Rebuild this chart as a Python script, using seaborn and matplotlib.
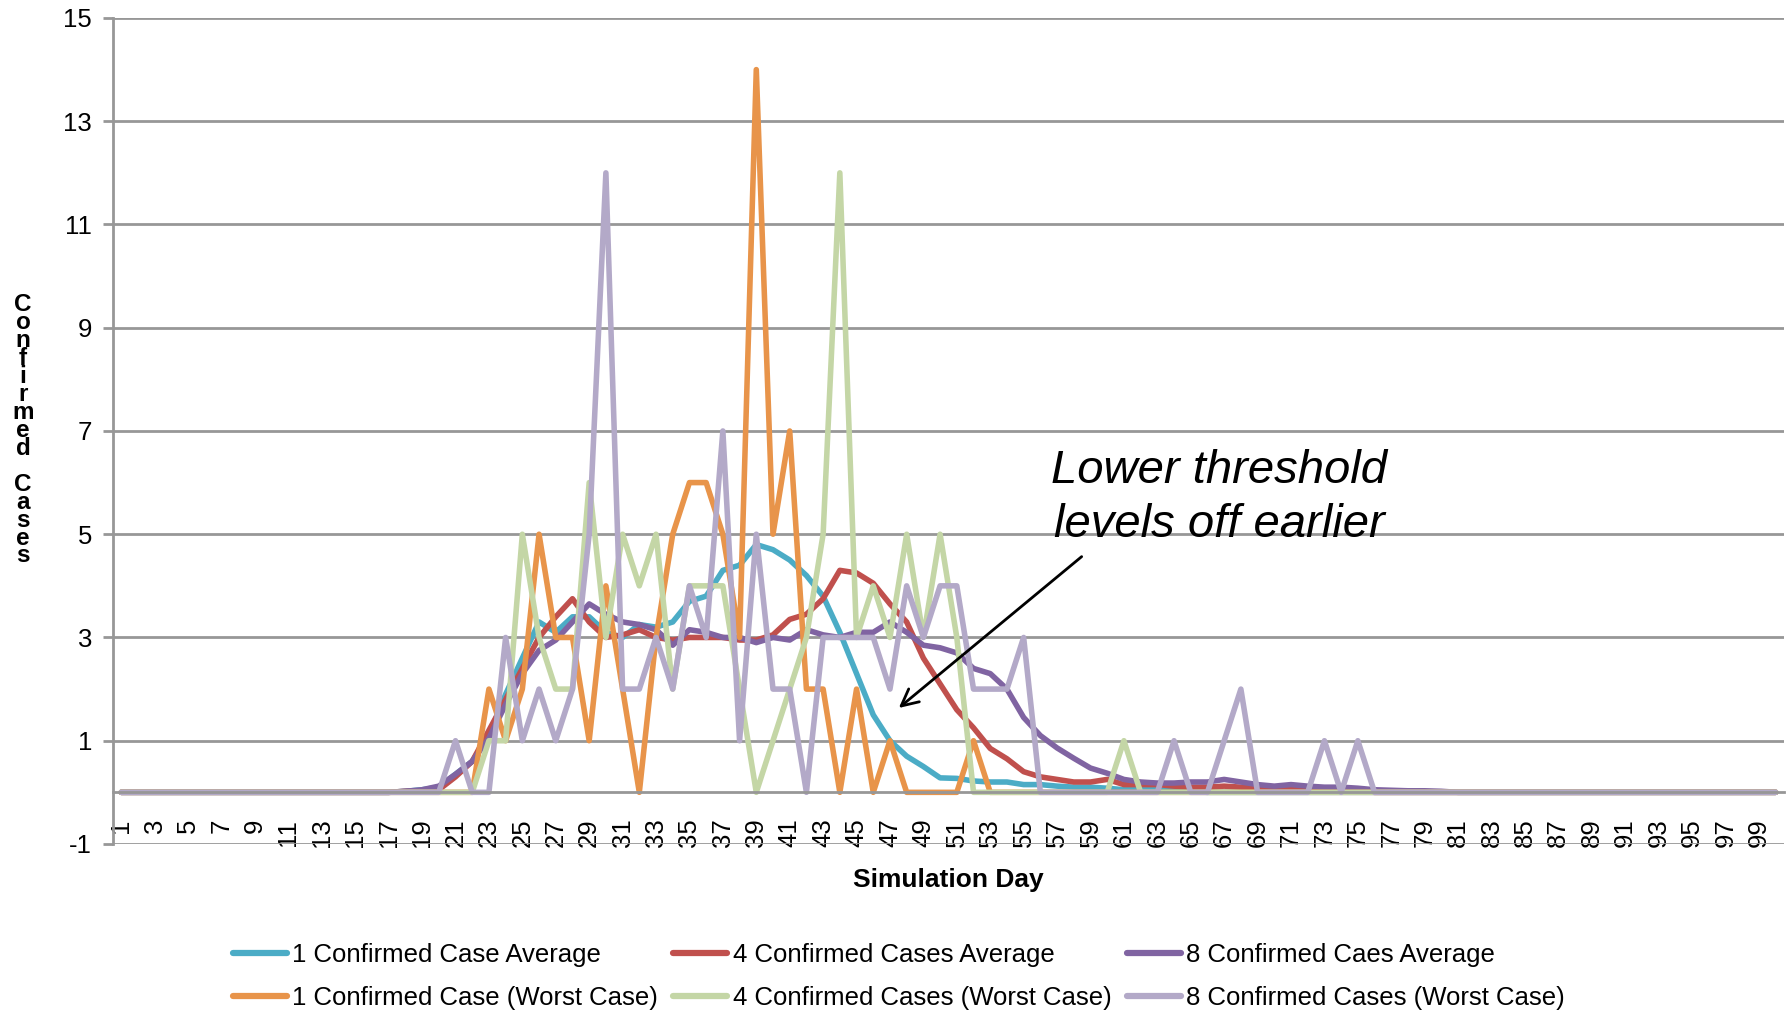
import matplotlib
matplotlib.use("Agg")
import matplotlib.pyplot as plt
import seaborn as sns
import numpy as np
import pandas as pd
from matplotlib.lines import Line2D

days = list(range(1, 101))

avg_1 = [0, 0, 0, 0, 0, 0, 0, 0, 0, 0,
         0, 0, 0, 0, 0, 0, 0, 0.02, 0.05, 0.1,
         0.35, 0.6, 1.1, 1.9, 2.6, 3.3, 3.1, 3.4, 3.4, 3.1,
         3.0, 3.25, 3.2, 3.3, 3.7, 3.8, 4.3, 4.4, 4.8, 4.7,
         4.5, 4.2, 3.8, 3.1, 2.3, 1.5, 1.0, 0.7, 0.5, 0.28,
         0.27, 0.22, 0.2, 0.2, 0.15, 0.15, 0.12, 0.1, 0.1, 0.08,
         0.05, 0.05, 0.05, 0.03, 0.02, 0, 0, 0, 0, 0,
         0, 0, 0, 0, 0, 0, 0, 0, 0, 0,
         0, 0, 0, 0, 0, 0, 0, 0, 0, 0,
         0, 0, 0, 0, 0, 0, 0, 0, 0, 0]

avg_4 = [0, 0, 0, 0, 0, 0, 0, 0, 0, 0,
         0, 0, 0, 0, 0, 0, 0, 0.02, 0.03, 0.05,
         0.3, 0.6, 1.2, 1.8, 2.4, 3.0, 3.4, 3.75, 3.3, 3.0,
         3.05, 3.15, 3.0, 2.95, 3.0, 3.0, 3.0, 2.95, 2.95, 3.05,
         3.35, 3.45, 3.75, 4.3, 4.25, 4.05, 3.65, 3.3, 2.6, 2.1,
         1.6, 1.25, 0.85, 0.65, 0.4, 0.3, 0.25, 0.2, 0.2, 0.25,
         0.15, 0.15, 0.15, 0.12, 0.1, 0.1, 0.12, 0.1, 0.08, 0.08,
         0.05, 0.05, 0.05, 0.03, 0.03, 0, 0, 0, 0, 0,
         0, 0, 0, 0, 0, 0, 0, 0, 0, 0,
         0, 0, 0, 0, 0, 0, 0, 0, 0, 0]

avg_8 = [0, 0, 0, 0, 0, 0, 0, 0, 0, 0,
         0, 0, 0, 0, 0, 0, 0, 0.02, 0.05, 0.12,
         0.35, 0.6, 1.05, 1.7, 2.3, 2.75, 2.95, 3.3, 3.65, 3.45,
         3.3, 3.25, 3.15, 2.85, 3.15, 3.1, 3.0, 3.0, 2.9, 3.0,
         2.95, 3.15, 3.05, 3.0, 3.1, 3.1, 3.3, 3.1, 2.85, 2.8,
         2.7, 2.4, 2.3, 2.0, 1.45, 1.1, 0.86, 0.66, 0.47, 0.37,
         0.25, 0.2, 0.18, 0.18, 0.2, 0.2, 0.25, 0.2, 0.15, 0.12,
         0.15, 0.12, 0.1, 0.1, 0.08, 0.05, 0.04, 0.03, 0.03, 0.02,
         0, 0, 0, 0, 0, 0, 0, 0, 0, 0,
         0, 0, 0, 0, 0, 0, 0, 0, 0, 0]

worst_1 = [0, 0, 0, 0, 0, 0, 0, 0, 0, 0,
           0, 0, 0, 0, 0, 0, 0, 0, 0, 0,
           0, 0, 2, 1, 2, 5, 3, 3, 1, 4,
           2, 0, 3, 5, 6, 6, 5, 3, 14, 5,
           7, 2, 2, 0, 2, 0, 1, 0, 0, 0,
           0, 1, 0, 0, 0, 0, 0, 0, 0, 0,
           0, 0, 0, 0, 0, 0, 0, 0, 0, 0,
           0, 0, 0, 0, 0, 0, 0, 0, 0, 0,
           0, 0, 0, 0, 0, 0, 0, 0, 0, 0,
           0, 0, 0, 0, 0, 0, 0, 0, 0, 0]

worst_4 = [0, 0, 0, 0, 0, 0, 0, 0, 0, 0,
           0, 0, 0, 0, 0, 0, 0, 0, 0, 0,
           0, 0, 1, 1, 5, 3, 2, 2, 6, 3,
           5, 4, 5, 2, 4, 4, 4, 2, 0, 1,
           2, 3, 5, 12, 3, 4, 3, 5, 3, 5,
           3, 0, 0, 0, 0, 0, 0, 0, 0, 0,
           1, 0, 0, 0, 0, 0, 0, 0, 0, 0,
           0, 0, 0, 0, 0, 0, 0, 0, 0, 0,
           0, 0, 0, 0, 0, 0, 0, 0, 0, 0,
           0, 0, 0, 0, 0, 0, 0, 0, 0, 0]

worst_8 = [0, 0, 0, 0, 0, 0, 0, 0, 0, 0,
           0, 0, 0, 0, 0, 0, 0, 0, 0, 0,
           1, 0, 0, 3, 1, 2, 1, 2, 5, 12,
           2, 2, 3, 2, 4, 3, 7, 1, 5, 2,
           2, 0, 3, 3, 3, 3, 2, 4, 3, 4,
           4, 2, 2, 2, 3, 0, 0, 0, 0, 0,
           0, 0, 0, 1, 0, 0, 1, 2, 0, 0,
           0, 0, 1, 0, 1, 0, 0, 0, 0, 0,
           0, 0, 0, 0, 0, 0, 0, 0, 0, 0,
           0, 0, 0, 0, 0, 0, 0, 0, 0, 0]

series_names = ["1 Confirmed Case Average", "4 Confirmed Cases Average",
                "8 Confirmed Caes Average", "1 Confirmed Case (Worst Case)",
                "4 Confirmed Cases (Worst Case)", "8 Confirmed Cases (Worst Case)"]
series_values = [avg_1, avg_4, avg_8, worst_1, worst_4, worst_8]
series_colors = ["#4BACC6", "#C0504D", "#8064A2", "#E8944A", "#C4D6A6", "#B3A9C8"]

y_ticks = [-1, 1, 3, 5, 7, 9, 11, 13, 15]
x_tick_days = list(range(1, 100, 2))

sns.set_style("white")
plt.rcParams['font.family'] = ['Liberation Sans', 'DejaVu Sans']
plt.rcParams['text.color'] = 'black'

fig = plt.figure(figsize=(17.87, 10.10), dpi=100)
ax = fig.add_axes([0.0632, 0.1644, 0.9351, 0.8178])

handles = []
for name, vals, col in zip(series_names, series_values, series_colors):
    sns.lineplot(x=days, y=vals, color=col, linewidth=4.0, ax=ax, legend=False)
    handles.append(Line2D([0], [0], color=col, linewidth=4.5, solid_capstyle='round'))

ax.set_xlim(0.5, 100.5)
ax.set_ylim(-1, 15)
ax.set_yticks(y_ticks)
ax.set_yticklabels([str(t) for t in y_ticks])
ax.yaxis.grid(True, color="#979797", lw=2)
ax.xaxis.grid(False)
ax.set_axisbelow(True)

ax.spines['top'].set_visible(False)
ax.spines['right'].set_visible(False)
ax.spines['left'].set_color("#979797")
ax.spines['left'].set_linewidth(2)
ax.spines['bottom'].set_position(('data', 0))
ax.spines['bottom'].set_color("#979797")
ax.spines['bottom'].set_linewidth(2)

ax.set_xticks(x_tick_days)
ax.set_xticklabels([str(d) for d in x_tick_days], rotation=90, va='top', ha='center')
ax.set_xticks(np.arange(0.5, 101, 1), minor=True)
ax.tick_params(axis='x', which='major', length=0, pad=19, labelsize=18.5, labelcolor='black')
ax.tick_params(axis='x', which='minor', length=7, width=1.5, color="#979797", direction='out')
ax.tick_params(axis='y', which='major', length=7, width=2, color="#979797", direction='out',
               pad=8, left=True, labelsize=18.5, labelcolor='black')
ax.set_xlabel("")
ax.set_ylabel("")

fig.text(0.5305, 0.129, "Simulation Day", fontsize=19, fontweight='bold', ha='center',
         va='center', color='black')
fig.text(0.0129, 0.574, "\n".join("Confirmed Cases"), fontsize=17.5, fontweight='bold',
         ha='center', va='center', linespacing=0.72, color='black')

ax.annotate("", xy=(47.4, 1.6), xytext=(58.6, 4.6),
            arrowprops=dict(arrowstyle='->', lw=2, color='black', mutation_scale=30))
ax.text(66.7, 5.7, "Lower threshold\nlevels off earlier", fontsize=34, style='italic',
        ha='center', va='center', linespacing=1.3, color='black')

order = [0, 3, 1, 4, 2, 5]
fig.legend([handles[i] for i in order], [series_names[i] for i in order],
           loc='center', bbox_to_anchor=(0.503, 0.0335), ncol=3, frameon=False,
           fontsize=18.5, handlelength=2.1, handletextpad=0.2, columnspacing=0.6,
           labelspacing=0.75, labelcolor='black')

fig.savefig("out.png", dpi=100)
